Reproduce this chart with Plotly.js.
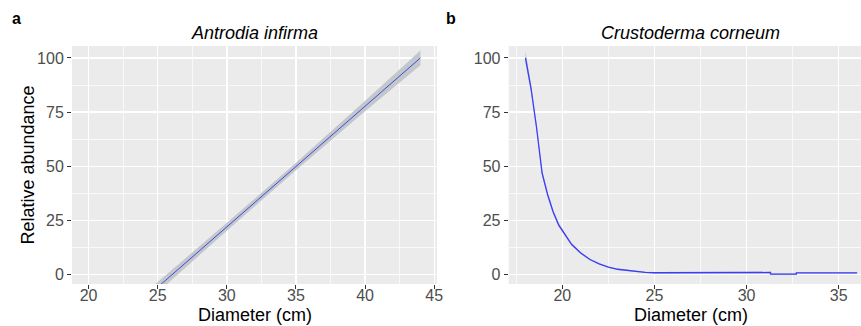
<!DOCTYPE html>
<html>
<head>
<meta charset="utf-8">
<script src="https://cdn.plot.ly/plotly-3.0.1.min.js"></script>
<style>html,body{margin:0;padding:0;background:#fff;}#chart{width:861px;height:326px;}</style>
</head>
<body>
<div id="chart"></div>
<script>
// Panel a: Antrodia infirma
const aDiameter = [20, 25, 30, 35, 40, 44];
const aFit      = [-33.6, -5.8, 22.1, 49.9, 77.8, 100];
const aLower    = [-37.2, -8.2, 20.3, 48.2, 75.4, 96.6];
const aUpper    = [-30.0, -3.4, 23.9, 51.6, 80.2, 103.4];

// Panel b: Crustoderma corneum
const bDiameter = [18, 18.3, 18.6, 18.9, 19.2, 19.5, 19.8, 20, 20.5, 21, 21.5, 22, 22.5, 23, 23.5, 24, 24.5, 25, 31.3, 31.3, 32.7, 32.7, 36];
const bFit      = [100, 86, 68, 47, 37, 29, 23, 20.5, 14, 10, 7, 5, 3.5, 2.5, 2, 1.5, 1.1, 0.9, 1.0, 0.3, 0.3, 0.8, 0.8];
const bLower    = [97.5, 84, 66.5, 45.5, 36, 28, 22.2, 19.8, 13.4, 9.5, 6.6, 4.7, 3.2, 2.2, 1.7, 1.2, 0.8, 0.6, 0.7, 0.0, 0.0, 0.5, 0.5];
const bUpper    = [103, 88, 69.5, 48.5, 38, 30, 23.8, 21.2, 14.6, 10.5, 7.4, 5.3, 3.8, 2.8, 2.3, 1.8, 1.4, 1.2, 1.3, 0.6, 0.6, 1.1, 1.1];

const xTicksA = [20, 25, 30, 35, 40, 45];
const xTicksB = [20, 25, 30, 35];
const yTicks  = [0, 25, 50, 75, 100];

const titles = ["Antrodia infirma", "Crustoderma corneum"];
const panelLetters = ["a", "b"];
const xTitle = "Diameter (cm)";
const yTitle = "Relative abundance";

const FONT = "Liberation Sans, Arial, sans-serif";

function ribbon(x, lo, hi, xa, ya, color) {
  return [
    {x: x, y: hi, xaxis: xa, yaxis: ya, mode: 'lines', line: {width: 0, color: color}, hoverinfo: 'skip', showlegend: false},
    {x: x, y: lo, xaxis: xa, yaxis: ya, mode: 'lines', line: {width: 0, color: color}, fill: 'tonexty', fillcolor: color, hoverinfo: 'skip', showlegend: false}
  ];
}

const data = [
  ...ribbon(aDiameter, aLower, aUpper, 'x', 'y', '#c2c7cc'),
  {x: aDiameter, y: aFit, xaxis: 'x', yaxis: 'y', mode: 'lines', line: {color: '#4646dc', width: 1}, showlegend: false},
  ...ribbon(bDiameter, bLower, bUpper, 'x2', 'y2', '#bdbdbd'),
  {x: bDiameter, y: bFit, xaxis: 'x2', yaxis: 'y2', mode: 'lines', line: {color: '#3c3cff', width: 1.3}, showlegend: false},
  // carriers for the tick-mark-only overlay axes (draw nothing)
  {x: [aDiameter[0]], y: [aFit[0]], xaxis: 'x3', yaxis: 'y', mode: 'lines', hoverinfo: 'skip', showlegend: false},
  {x: [bDiameter[0]], y: [bFit[0]], xaxis: 'x4', yaxis: 'y2', mode: 'lines', hoverinfo: 'skip', showlegend: false}
];

const yDomain = [1 - 284/326, 1 - 46/326];
function xAxis(domain, range, ticks) {
  return {
    domain: domain, range: range, tickvals: ticks, ticktext: ticks.map(String),
    ticks: '',
    tickfont: {family: FONT, size: 16, color: '#4d4d4d'},
    showgrid: true, gridcolor: '#ffffff', gridwidth: 1.3,
    minor: {tick0: 0, dtick: 2.5, showgrid: true, gridcolor: '#ffffff', gridwidth: 0.7, ticks: ''},
    zeroline: false, showline: false, fixedrange: true
  };
}
function xTickAxis(over, anchor, domain, range, ticks) {
  return {
    overlaying: over, anchor: anchor, domain: domain, range: range, tickvals: ticks,
    showticklabels: false, ticks: 'outside', ticklen: 4, tickwidth: 1, tickcolor: '#333333',
    showgrid: false, zeroline: false, showline: false, fixedrange: true
  };
}
function yAxis(anchor) {
  return {
    domain: yDomain, range: [-4.3, 105.5], anchor: anchor, tickvals: yTicks, ticktext: yTicks.map(String),
    ticks: 'outside', ticklen: 4, tickwidth: 1, tickcolor: '#333333',
    tickfont: {family: FONT, size: 16, color: '#4d4d4d'},
    showgrid: true, gridcolor: '#ffffff', gridwidth: 1.3,
    minor: {tick0: 0, dtick: 12.5, showgrid: true, gridcolor: '#ffffff', gridwidth: 0.7, ticks: ''},
    zeroline: false, showline: false, fixedrange: true
  };
}

const W = 861, H = 326;
function px(x) { return x / W; }
function py(y) { return 1 - y / H; }

const annotations = [
  {text: '<b>' + panelLetters[0] + '</b>', x: px(16), y: py(18)},
  {text: '<b>' + panelLetters[1] + '</b>', x: px(451), y: py(18)},
].map(a => Object.assign({xref: 'paper', yref: 'paper', showarrow: false, xanchor: 'center', yanchor: 'middle', font: {family: FONT, size: 16, color: '#000'}}, a))
.concat([
  {text: '<i>' + titles[0] + '</i>', x: px(254.5), y: py(33)},
  {text: '<i>' + titles[1] + '</i>', x: px(690), y: py(33)},
  {text: xTitle, x: px(254.5), y: py(315)},
  {text: xTitle, x: px(690.5), y: py(315)},
  {text: yTitle, x: px(28), y: py(165.5), textangle: -90}
].map(a => Object.assign({xref: 'paper', yref: 'paper', showarrow: false, xanchor: 'center', yanchor: 'middle', font: {family: FONT, size: 18, color: '#000'}}, a)));

const domA = [72/W, 437/W], domB = [508.7/W, 1];
const rangeA = [18.8, 45.2], rangeB = [17.09, 36.21];

const layout = {
  width: W, height: H,
  margin: {l: 0, r: 0, t: 0, b: 0, pad: 0},
  paper_bgcolor: '#ffffff', plot_bgcolor: '#ebebeb',
  showlegend: false,
  xaxis: Object.assign(xAxis(domA, rangeA, xTicksA), {anchor: 'y'}),
  yaxis: yAxis('x'),
  xaxis2: Object.assign(xAxis(domB, rangeB, xTicksB), {anchor: 'y2'}),
  yaxis2: yAxis('x2'),
  xaxis3: xTickAxis('x', 'y', domA, rangeA, xTicksA),
  xaxis4: xTickAxis('x2', 'y2', domB, rangeB, xTicksB),
  annotations: annotations
};

Plotly.newPlot('chart', data, layout, {displayModeBar: false, staticPlot: true});
</script>
</body>
</html>
